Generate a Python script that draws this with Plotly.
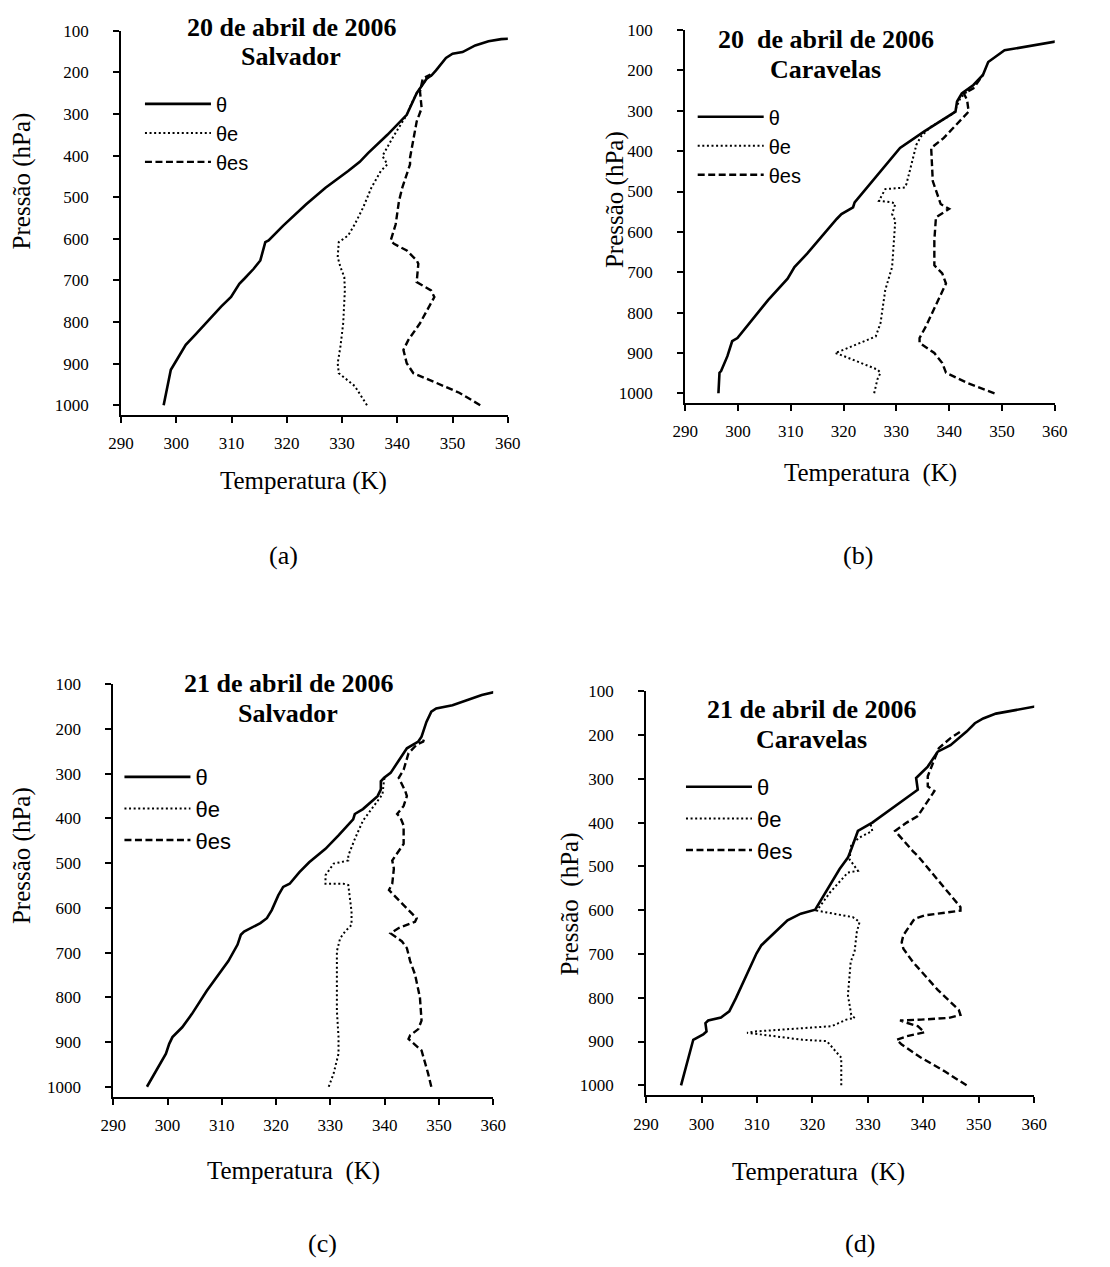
import plotly.graph_objects as go

W, H = 1110, 1267

# ---------------- data (pressure hPa, temperature K) ----------------
# (a) 20 de abril de 2006 - Salvador
theta_a_p = [1000, 915, 895, 855, 831, 763, 740, 708, 696, 672, 652, 608, 604, 569, 517, 477, 437, 415, 394, 350, 302, 274, 250, 215, 207, 195, 165, 155, 151, 135, 125, 120, 119]
theta_a_t = [297.7, 299.0, 299.9, 301.7, 303.4, 308.1, 309.9, 311.4, 312.3, 314.0, 315.2, 316.1, 316.7, 319.3, 323.5, 327.0, 331.1, 333.2, 334.7, 338.2, 341.7, 342.6, 343.5, 345.3, 346.2, 347.0, 348.8, 350.0, 351.8, 354.1, 356.5, 358.8, 360.3]
thetae_a_p = [1000, 954, 923, 899, 859, 803, 724, 692, 668, 644, 608, 592, 565, 525, 477, 437, 421, 401, 358, 302, 274, 250, 215, 207]
thetae_a_t = [334.5, 332.3, 329.4, 329.2, 329.7, 330.2, 330.5, 330.4, 329.7, 329.2, 329.4, 331.1, 332.3, 333.8, 335.3, 337.0, 338.2, 337.3, 339.1, 341.7, 342.6, 343.5, 345.3, 346.2]
thetaes_a_p = [1000, 970, 946, 923, 899, 867, 843, 803, 740, 724, 704, 660, 652, 628, 612, 604, 565, 509, 477, 421, 405, 366, 318, 286, 246, 215, 205]
thetaes_a_t = [355.0, 351.2, 347.0, 342.9, 341.7, 341.1, 342.0, 344.1, 346.7, 346.1, 343.5, 343.8, 343.5, 341.7, 339.4, 338.8, 339.7, 340.3, 340.9, 342.3, 342.3, 342.9, 343.5, 344.4, 344.1, 344.6, 346.0]

# (b) 20 de abril de 2006 - Caravelas
theta_b_p = [1000, 949, 945, 908, 871, 863, 769, 716, 687, 654, 568, 556, 539, 527, 392, 384, 351, 302, 277, 257, 236, 211, 179, 150, 128]
theta_b_t = [296.3, 296.5, 296.8, 298.0, 298.9, 299.9, 305.7, 309.4, 310.7, 313.1, 318.7, 319.6, 321.8, 322.1, 330.7, 331.6, 335.3, 341.2, 341.5, 342.4, 344.6, 346.4, 347.4, 350.5, 360.3]
thetae_b_p = [1000, 966, 949, 941, 904, 900, 896, 859, 826, 744, 687, 572, 556, 531, 527, 523, 494, 490, 482, 384, 363, 339, 306, 269, 236]
thetae_b_t = [325.8, 326.4, 327.0, 326.4, 319.3, 318.4, 319.3, 326.1, 327.0, 327.9, 329.2, 329.8, 329.2, 329.8, 329.2, 326.7, 327.9, 331.6, 331.9, 333.8, 334.7, 336.6, 340.9, 342.1, 344.6]
thetaes_b_p = [1000, 974, 949, 925, 900, 875, 863, 834, 728, 703, 683, 621, 564, 543, 531, 507, 474, 392, 367, 302, 273, 257, 244, 211]
thetaes_b_t = [348.6, 343.4, 339.4, 338.7, 337.2, 334.4, 334.4, 335.6, 339.4, 338.7, 337.2, 337.2, 337.5, 340.0, 338.4, 337.8, 336.9, 336.6, 339.0, 343.7, 343.4, 342.8, 344.6, 346.4]

# (c) 21 de abril de 2006 - Salvador
theta_c_p = [1000, 926, 904, 889, 867, 837, 786, 741, 719, 682, 660, 653, 634, 623, 605, 572, 553, 546, 520, 498, 468, 438, 402, 390, 379, 350, 335, 317, 309, 298, 269, 243, 228, 217, 184, 161, 154, 147, 124, 117]
theta_c_t = [296.2, 299.7, 300.3, 300.9, 302.7, 304.5, 307.2, 309.9, 311.2, 312.9, 313.5, 314.1, 317.1, 318.3, 319.2, 320.4, 321.3, 322.5, 324.3, 326.1, 329.1, 331.5, 334.2, 334.5, 336.0, 338.7, 339.3, 339.3, 339.9, 341.1, 342.6, 344.1, 346.2, 346.8, 347.7, 348.6, 349.5, 352.5, 357.9, 360.3]
thetae_c_p = [1000, 970, 926, 889, 830, 719, 697, 668, 653, 638, 608, 549, 546, 546, 527, 501, 494, 483, 446, 405, 372, 346, 313, 305]
thetae_c_t = [329.7, 330.6, 331.5, 331.5, 331.2, 331.2, 331.2, 331.8, 332.7, 333.9, 333.9, 333.3, 332.4, 329.1, 329.1, 330.6, 333.3, 333.3, 334.5, 336.0, 338.1, 339.6, 339.9, 340.2]
thetaes_c_p = [1000, 970, 919, 904, 893, 885, 871, 852, 800, 749, 719, 690, 675, 657, 645, 631, 623, 594, 560, 546, 512, 494, 483, 457, 416, 398, 390, 372, 350, 339, 309, 291, 254, 235, 228, 217]
thetaes_c_t = [348.6, 348.0, 346.8, 345.3, 344.4, 344.7, 346.2, 346.8, 346.5, 345.6, 344.7, 344.1, 343.2, 341.1, 342.6, 345.6, 345.9, 343.5, 340.8, 341.4, 341.7, 341.4, 342.0, 343.5, 343.5, 342.9, 342.3, 343.5, 344.1, 343.8, 342.6, 343.5, 344.4, 345.9, 347.1, 347.4]

# (d) 21 de abril de 2006 - Caravelas
theta_d_p = [1000, 896, 884, 877, 858, 852, 845, 831, 801, 718, 699, 680, 635, 623, 608, 599, 506, 480, 461, 419, 400, 325, 298, 272, 238, 223, 192, 173, 162, 151, 143, 134]
theta_d_t = [296.3, 298.5, 300.3, 300.9, 300.7, 301.2, 303.5, 305.0, 306.2, 309.1, 309.9, 310.8, 314.4, 315.5, 317.9, 320.5, 324.9, 326.4, 327.0, 328.2, 330.8, 339.0, 338.7, 340.8, 342.6, 344.9, 347.8, 349.3, 350.8, 353.1, 356.6, 360.5]
thetae_d_p = [1000, 937, 930, 899, 896, 880, 877, 865, 850, 846, 839, 794, 718, 695, 650, 627, 616, 601, 559, 514, 510, 484, 450, 434, 419, 404, 397]
thetae_d_t = [325.2, 325.2, 324.7, 322.6, 318.2, 308.2, 309.7, 323.5, 326.1, 327.6, 327.0, 326.4, 326.9, 327.6, 328.0, 328.5, 327.3, 320.8, 323.2, 326.4, 328.2, 326.7, 327.0, 328.5, 330.8, 330.5, 331.1]
thetaes_d_p = [1000, 967, 937, 907, 896, 888, 879, 865, 856, 852, 850, 846, 839, 828, 782, 718, 688, 673, 657, 620, 612, 601, 593, 533, 476, 465, 423, 419, 400, 385, 328, 317, 294, 230, 207, 192]
thetaes_d_t = [347.8, 343.7, 339.6, 336.1, 335.2, 337.0, 340.2, 339.0, 336.7, 335.8, 339.6, 344.6, 346.7, 346.4, 342.6, 338.1, 336.4, 336.1, 336.4, 338.4, 340.2, 346.7, 346.7, 342.8, 339.0, 338.1, 335.2, 334.9, 337.0, 339.0, 342.0, 340.8, 340.8, 342.8, 344.9, 346.7]

series_names = ["θ", "θe", "θes"]
x_ticks = [290, 300, 310, 320, 330, 340, 350, 360]
y_ticks = [100, 200, 300, 400, 500, 600, 700, 800, 900, 1000]
dates = ["20 de abril de 2006", "20  de abril de 2006", "21 de abril de 2006", "21 de abril de 2006"]
stations = ["Salvador", "Caravelas", "Salvador", "Caravelas"]
ytitles = ["Pressão (hPa)", "Pressão (hPa)", "Pressão (hPa)", "Pressão  (hPa)"]
xtitles = ["Temperatura (K)", "Temperatura  (K)", "Temperatura  (K)", "Temperatura  (K)"]
letters = ["(a)", "(b)", "(c)", "(d)"]

panels = [
    (theta_a_t, theta_a_p, thetae_a_t, thetae_a_p, thetaes_a_t, thetaes_a_p),
    (theta_b_t, theta_b_p, thetae_b_t, thetae_b_p, thetaes_b_t, thetaes_b_p),
    (theta_c_t, theta_c_p, thetae_c_t, thetae_c_p, thetaes_c_t, thetaes_c_p),
    (theta_d_t, theta_d_p, thetae_d_t, thetae_d_p, thetaes_d_t, thetaes_d_p),
]

# ---------------- layout geometry (pixels) ----------------
def PX(x):
    return x / W

def PY(y):
    return 1 - y / H

# plot area boxes: left, right, top(100 hPa), bottom(x axis)
boxes = [
    (110.7, 506.7, 22.0, 409.0),
    (688.3, 1066.7, 21.3, 396.7),
    (102.7, 491.7, 680.7, 1096.7),
    (648.3, 1045.7, 687.7, 1095.0),
]
DY = -7  # visual offset correction for text boxes
title_pos = [(285, 26, 55), (832, 38, 68), (282, 687, 717), (818, 713, 743)]
ytitle_pos = [(9, 173), (617, 192), (9, 853), (570, 902)]
xtitle_pos = [(297, 483), (878, 475), (287, 1178), (825, 1179)]
letter_pos = [(277, 558), (865, 558), (317, 1251), (867, 1251)]
legend_pos = [(130, 76), (696, 89), (109, 753), (684, 763)]
legend_fs = [20, 20, 22, 22]

serif = "Liberation Serif"
sans = "Liberation Sans"

styles = [
    dict(color="black", width=2.6, dash="solid"),
    dict(color="black", width=2.0, dash="2px,2.6px"),
    dict(color="black", width=2.4, dash="7px,3.5px"),
]

fig = go.Figure()
annotations = []
layout_extra = {}

for i, pdata in enumerate(panels):
    sfx = "" if i == 0 else str(i + 1)
    xa, ya = "x" + sfx, "y" + sfx
    leg = "legend" + sfx
    for k in range(3):
        fig.add_trace(go.Scatter(
            x=pdata[2 * k], y=pdata[2 * k + 1], mode="lines",
            name=series_names[k], line=styles[k],
            xaxis=xa, yaxis=ya, legend=leg, hoverinfo="skip",
        ))
    l, r, t, b = boxes[i]
    layout_extra["xaxis" + sfx] = dict(
        domain=[PX(l), PX(r)], range=[290, 360], tickvals=x_ticks,
        showline=True, linecolor="black", linewidth=2, mirror=False,
        ticks="outside", ticklen=6, tickwidth=1.5, tickcolor="black",
        showgrid=False, zeroline=False, anchor=ya, fixedrange=True,
        tickfont=dict(family=serif, size=17, color="black"),
        ticklabelstandoff=6,
    )
    layout_extra["yaxis" + sfx] = dict(
        domain=[PY(b), PY(t)], range=[1023, 100], tickvals=y_ticks,
        showline=True, linecolor="black", linewidth=2,
        ticks="outside", ticklen=6, tickwidth=1.5, tickcolor="black",
        showgrid=False, zeroline=False, anchor=xa, fixedrange=True,
        tickfont=dict(family=serif, size=17, color="black"),
        ticklabelstandoff=21,
    )
    lx, ly = legend_pos[i]
    layout_extra[leg] = dict(
        x=PX(lx), y=PY(ly), xanchor="left", yanchor="top",
        bgcolor="rgba(0,0,0,0)", borderwidth=0,
        font=dict(family=sans, size=legend_fs[i], color="black"),
        itemwidth=66, tracegroupgap=0,
    )
    tx, ty1, ty2 = title_pos[i]
    annotations.append(dict(x=PX(tx), y=PY(ty1 + DY), xref="paper", yref="paper",
                            text="<b>" + dates[i] + "</b>", showarrow=False,
                            xanchor="center", yanchor="middle",
                            font=dict(family=serif, size=26, color="black")))
    annotations.append(dict(x=PX(tx), y=PY(ty2 + DY), xref="paper", yref="paper",
                            text="<b>" + stations[i] + "</b>", showarrow=False,
                            xanchor="center", yanchor="middle",
                            font=dict(family=serif, size=26, color="black")))
    yx, yy = ytitle_pos[i]
    annotations.append(dict(x=PX(yx), y=PY(yy), xref="paper", yref="paper",
                            text=ytitles[i].replace("  ", "&nbsp; "), showarrow=False, textangle=-90,
                            xanchor="center", yanchor="middle",
                            font=dict(family=serif, size=25, color="black")))
    xx, xy = xtitle_pos[i]
    annotations.append(dict(x=PX(xx), y=PY(xy + DY), xref="paper", yref="paper",
                            text=xtitles[i].replace("  ", "&nbsp; "), showarrow=False,
                            xanchor="center", yanchor="middle",
                            font=dict(family=serif, size=25, color="black")))
    ax_, ay_ = letter_pos[i]
    annotations.append(dict(x=PX(ax_), y=PY(ay_ + DY), xref="paper", yref="paper",
                            text=letters[i], showarrow=False,
                            xanchor="center", yanchor="middle",
                            font=dict(family=serif, size=26, color="black")))

fig.update_layout(
    width=W, height=H, margin=dict(l=0, r=0, t=0, b=0),
    paper_bgcolor="white", plot_bgcolor="white",
    font=dict(family=serif, size=17, color="black"),
    showlegend=True, annotations=annotations, **layout_extra,
)

fig.write_html("out.html", config={"displayModeBar": False},
               post_script="document.body.style.margin='0';")
